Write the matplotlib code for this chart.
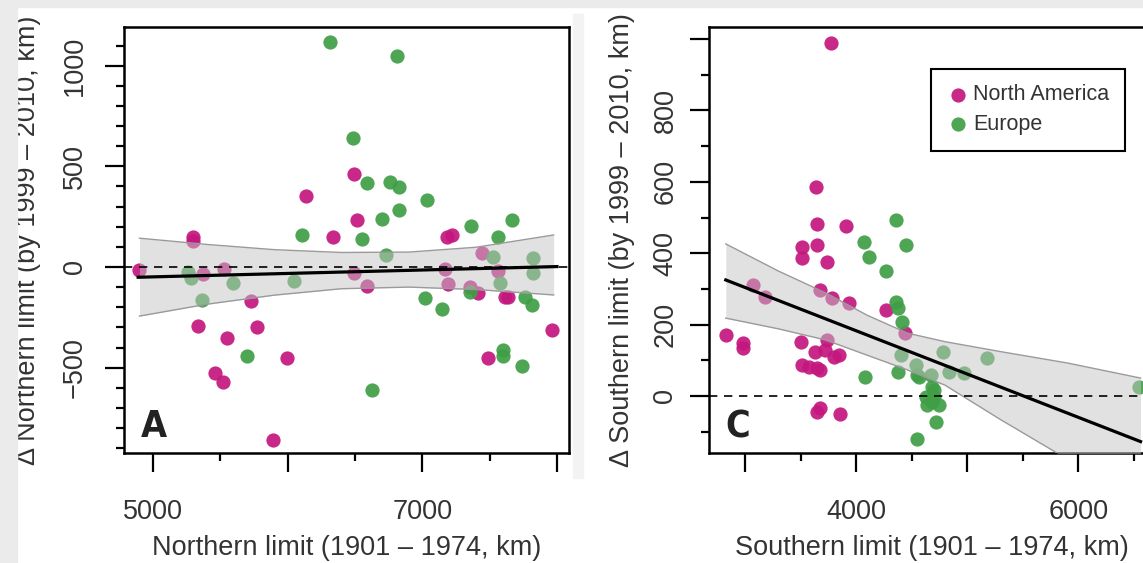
import numpy as np
import matplotlib
matplotlib.use("Agg")
from matplotlib import pyplot as plt
from matplotlib.patches import Rectangle

plt.rcParams['font.family'] = ['Liberation Sans', 'DejaVu Sans']

# ---- data ----
# panel A : northern limit
na_a_x = [4898, 5295, 5300, 5369, 5527, 5725, 5332, 5547, 5770, 5460, 5517, 5997, 5889,
          6134, 6339, 6492, 6512, 6495, 6587, 7168, 7193, 7181, 7218, 7441, 7564, 7354,
          7416, 7614, 7638, 7490, 7960]
na_a_y = [-15, 150, 128, -35, -10, -168, -294, -355, -300, -526, -571, -454, -857,
          353, 151, 463, 234, -31, -95, -10, -86, 151, 159, 68, -18, -98,
          -128, -148, -148, -454, -313]
eu_a_x = [5262, 5280, 5596, 6049, 5366, 5696, 6624, 6314, 6810, 6483, 6587, 6760, 6829,
          7032, 6829, 6698, 6109, 6554, 6730, 7359, 7663, 7564, 7527, 7824, 7819, 7020,
          7144, 7354, 7577, 7762, 7812, 7601, 7601, 7738]
eu_a_y = [-25, -55, -78, -70, -164, -443, -609, 1116, 1046, 643, 416, 424, 395,
          333, 284, 239, 159, 139, 60, 206, 234, 148, 51, 43, -31, -153,
          -211, -123, -81, -148, -189, -413, -443, -491]
fit_a_x = [4890, 8000]
fit_a_y = [-51, 2]
band_a_x = [4900, 5400, 5900, 6400, 6900, 7400, 7975]
band_a_hi = [143, 112, 86, 72, 74, 98, 159]
band_a_lo = [-244, -185, -140, -108, -100, -112, -139]

# panel C : southern limit
na_c_x = [3774, 3639, 3648, 3910, 3512, 3512, 3648, 3738, 3075, 3181, 3677, 3783, 3934,
          4265, 4439, 2826, 2985, 2985, 3506, 3738, 3632, 3723, 3843, 3798, 3512, 3572,
          3648, 3677, 3677, 3650, 3858]
na_c_y = [990, 586, 482, 476, 418, 386, 423, 376, 311, 278, 297, 274, 260,
          241, 176, 171, 148, 134, 152, 157, 124, 129, 115, 110, 87, 82,
          78, 73, -35, -45, -50]
eu_c_x = [4355, 4069, 4445, 4114, 4265, 4355, 4379, 4409, 4078, 4379, 4400, 4536, 4566,
          4551, 4786, 5177, 4551, 4671, 4837, 4972, 4687, 4626, 4702, 4641, 4747, 4687,
          4716, 4702, 6546]
eu_c_y = [493, 432, 423, 390, 351, 264, 246, 208, 54, 68, 115, 87, 54,
          -121, 124, 106, 59, 59, 68, 64, 26, -2, -2, -25, -25, -16,
          -72, 17, 26]
fit_c_x = [2826, 6560]
fit_c_y = [325, -128]
band_c_x = [2826, 3300, 3723, 4100, 4461, 4800, 5303, 5906, 6560]
band_c_hi = [426, 350, 289, 226, 176, 152, 124, 92, 50]
band_c_lo = [218, 188, 157, 114, 73, 30, -67, -178, -300]

MAGENTA = '#c4177f'
GREEN = '#3f9f45'
TXT = '#333333'
FS = 19.5

W, H = 1143, 563
fig = plt.figure(figsize=(W / 100, H / 100), dpi=100)

# light grey page margins of the source figure
fig.patches.append(Rectangle((0, 1 - 7 / H), 1, 7 / H, transform=fig.transFigure,
                             color='#ebebeb', zorder=0))
fig.patches.append(Rectangle((0, 0), 17 / W, 1, transform=fig.transFigure,
                             color='#ebebeb', zorder=0))
fig.patches.append(Rectangle((573 / W, 1 - 478 / H), 10 / W, 464 / H,
                             transform=fig.transFigure, color='#f3f3f3', zorder=0))


def add_panel(left, right, top=27, bottom=453):
    return fig.add_axes([left / W, 1 - bottom / H, (right - left) / W, (bottom - top) / H])


def style(ax, xmaj, xmin, xlabs, ymaj, ymin, ylabs, ypad):
    ax.set_xticks(xmaj)
    ax.set_xticklabels(xlabs)
    ax.set_xticks(xmin, minor=True)
    ax.set_yticks(ymaj)
    ax.set_yticklabels(ylabs, rotation=90, va='center')
    ax.set_yticks(ymin, minor=True)
    ax.tick_params(which='major', length=14, width=1.6, direction='out', labelsize=FS,
                   colors='black', labelcolor=TXT)
    ax.tick_params(which='minor', length=6, width=1.6, direction='out')
    ax.tick_params(axis='x', which='major', pad=19)
    ax.tick_params(axis='y', which='major', pad=ypad)
    for s in ax.spines.values():
        s.set_linewidth(1.8)


def draw(ax, nax, nay, eux, euy, fx, fy, bx, bhi, blo):
    ax.scatter(nax, nay, s=105, color=MAGENTA, alpha=0.92, lw=0, zorder=2, label='North America')
    ax.scatter(eux, euy, s=105, color=GREEN, alpha=0.92, lw=0, zorder=2, label='Europe')
    ax.fill_between(bx, blo, bhi, color='#c4c4c4', alpha=0.5, lw=0, zorder=3)
    ax.plot(bx, bhi, color='#9a9a9a', lw=1.0, zorder=3)
    ax.plot(bx, blo, color='#9a9a9a', lw=1.0, zorder=3)
    ax.axhline(0, color='black', lw=1.2, ls=(0, (5, 4)), zorder=4)
    ax.plot(fx, fy, color='black', lw=2.3, zorder=5)


def panel_letter(ax, x, letter):
    ax.text(x, 0.06, letter, transform=ax.transAxes, fontsize=27, fontweight='bold',
            family='DejaVu Sans', fontstretch='condensed', ha='center', va='center',
            color='#222222')


# panel A
axA = add_panel(124, 569)
draw(axA, na_a_x, na_a_y, eu_a_x, eu_a_y, fit_a_x, fit_a_y, band_a_x, band_a_hi, band_a_lo)
axA.set_xlim(4785, 8089)
axA.set_ylim(-924, 1192)
style(axA, [5000, 6000, 7000, 8000], [5500, 6500, 7500], ['5000', '', '7000', ''],
      [-500, 0, 500, 1000], list(range(-900, 1200, 100)), ['\u2212500', '0', '500', '1000'], 12)
axA.set_xlabel('Northern limit (1901 \u2013 1974, km)', fontsize=FS, color=TXT, va='center')
axA.xaxis.set_label_coords(0.5, (453 - 548) / 426)
axA.set_ylabel('\u0394 Northern limit (by 1999 \u2013 2010, km)', fontsize=FS, color=TXT,
               va='center', ha='center')
axA.yaxis.set_label_coords((28 - 124) / 445, 0.5)
panel_letter(axA, 0.068, 'A')

# panel C
axC = add_panel(709, 1155)
draw(axC, na_c_x, na_c_y, eu_c_x, eu_c_y, fit_c_x, fit_c_y, band_c_x, band_c_hi, band_c_lo)
axC.set_xlim(2675, 6690)
axC.set_ylim(-160, 1034)
style(axC, [3000, 4000, 5000, 6000], [3500, 4500, 5500, 6500], ['', '4000', '', '6000'],
      [0, 200, 400, 600, 800, 1000], list(range(-100, 1000, 200)),
      ['0', '200', '400', '600', '800', ''], 8)
axC.set_xlabel('Southern limit (1901 \u2013 1974, km)', fontsize=FS, color=TXT, va='center')
axC.xaxis.set_label_coords(0.5, (453 - 548) / 426)
axC.set_ylabel('\u0394 Southern limit (by 1999 \u2013 2010, km)', fontsize=FS, color=TXT,
               va='center', ha='center')
axC.yaxis.set_label_coords((622 - 709) / 446, 0.5)
panel_letter(axC, 0.065, 'C')

leg = axC.legend(loc='upper left', bbox_to_anchor=(931 / W, 1 - 69 / H),
                 bbox_transform=fig.transFigure, fontsize=15.5, frameon=True, fancybox=False,
                 edgecolor='black', framealpha=1, handletextpad=0.15, borderpad=0.72,
                 labelspacing=0.4, handlelength=1.1, borderaxespad=0)
leg.get_frame().set_linewidth(1.5)
for t in leg.get_texts():
    t.set_color(TXT)

fig.savefig('out.png', dpi=100)
